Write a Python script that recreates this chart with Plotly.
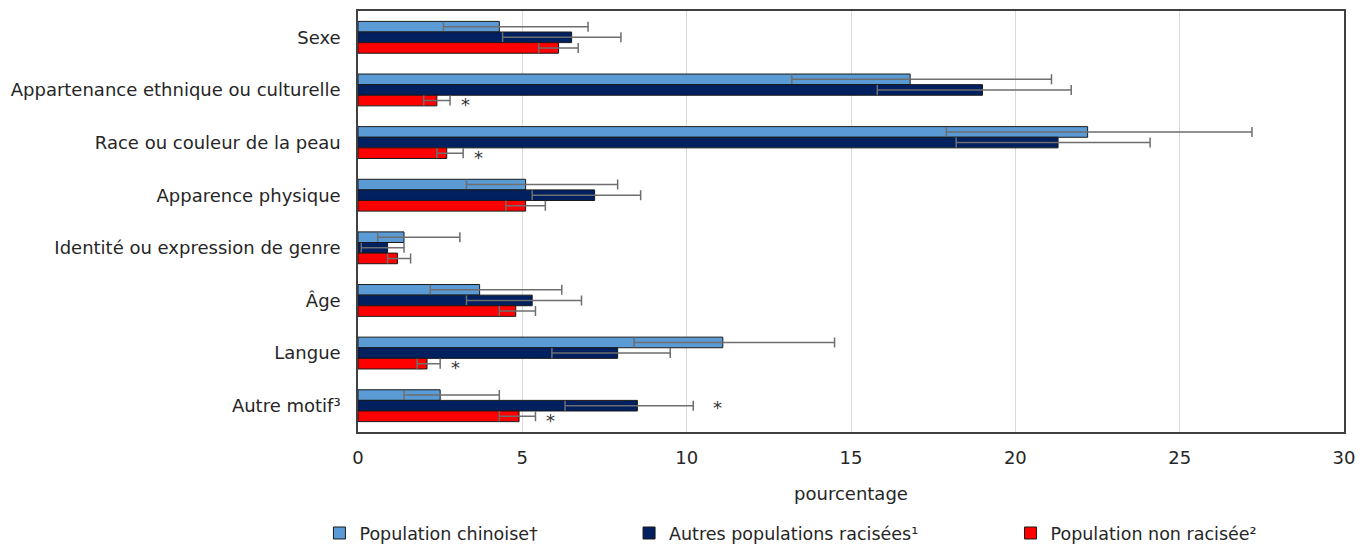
import plotly.graph_objects as go

# Motifs de discrimination (catégories de l'axe vertical)
categories = [
    "Sexe",
    "Appartenance ethnique ou culturelle",
    "Race ou couleur de la peau",
    "Apparence physique",
    "Identité ou expression de genre",
    "Âge",
    "Langue",
    "Autre motif³",
]

# Population chinoise (référence)
chinese = [4.3, 16.8, 22.2, 5.1, 1.4, 3.7, 11.1, 2.5]
chinese_low = [2.6, 13.2, 17.9, 3.3, 0.6, 2.2, 8.4, 1.4]
chinese_high = [7.0, 21.1, 27.2, 7.9, 3.1, 6.2, 14.5, 4.3]

# Autres populations racisées
other = [6.5, 19.0, 21.3, 7.2, 0.9, 5.3, 7.9, 8.5]
other_low = [4.4, 15.8, 18.2, 5.3, 0.1, 3.3, 5.9, 6.3]
other_high = [8.0, 21.7, 24.1, 8.6, 1.4, 6.8, 9.5, 10.2]
other_sig = [False, False, False, False, False, False, False, True]

# Population non racisée
nonrac = [6.1, 2.4, 2.7, 5.1, 1.2, 4.8, 2.1, 4.9]
nonrac_low = [5.5, 2.0, 2.4, 4.5, 0.9, 4.3, 1.8, 4.3]
nonrac_high = [6.7, 2.8, 3.2, 5.7, 1.6, 5.4, 2.5, 5.4]
nonrac_sig = [False, True, True, False, False, False, True, True]

x_ticks = [0, 5, 10, 15, 20, 25, 30]

FONT = "DejaVu Sans, Verdana, sans-serif"
TEXT = "#262626"


def bar_trace(name, vals, low, high, color, legend):
    return go.Bar(
        name=name,
        y=categories,
        x=vals,
        orientation="h",
        marker=dict(color=color, line=dict(color="#1a1a1a", width=1)),
        error_x=dict(
            type="data",
            symmetric=False,
            array=[h - v for h, v in zip(high, vals)],
            arrayminus=[v - l for v, l in zip(vals, low)],
            color="#6e6e6e",
            thickness=1.5,
            width=5,
        ),
        legend=legend,
    )


fig = go.Figure()
fig.add_trace(bar_trace("Population chinoise†", chinese, chinese_low, chinese_high, "#5b9bd5", "legend"))
fig.add_trace(bar_trace("Autres populations racisées¹", other, other_low, other_high, "#002060", "legend2"))
fig.add_trace(bar_trace("Population non racisée²", nonrac, nonrac_low, nonrac_high, "#ff0000", "legend3"))

# Astérisques : différence significative par rapport à la population chinoise
for sig, high, shift, dx in ((other_sig, other_high, -2, 24), (nonrac_sig, nonrac_high, -14.5, 15)):
    for cat, flag, h in zip(categories, sig, high):
        if flag:
            fig.add_annotation(
                x=h, y=cat, text="*", showarrow=False,
                xshift=dx, yshift=shift,
                font=dict(family=FONT, size=18, color="#333333"),
            )

legend_common = dict(
    orientation="h", yanchor="middle", xanchor="left",
    yref="container", y=0.02,
    font=dict(family=FONT, size=17.5, color=TEXT), bgcolor="rgba(0,0,0,0)",
    itemwidth=30,
)

fig.update_layout(
    width=1365,
    height=544,
    barmode="group",
    bargap=0.395,
    bargroupgap=0,
    plot_bgcolor="white",
    paper_bgcolor="white",
    margin=dict(l=358, r=21, t=9, b=112),
    font=dict(family=FONT, size=18, color=TEXT),
    showlegend=True,
    legend=dict(legend_common, x=-0.0391),
    legend2=dict(legend_common, x=0.2749),
    legend3=dict(legend_common, x=0.6618),
    xaxis=dict(
        range=[0, 30],
        tickvals=x_ticks,
        showgrid=True,
        gridcolor="#d9d9d9",
        gridwidth=1,
        zeroline=False,
        showline=True,
        linecolor="#404040",
        linewidth=1.5,
        mirror=True,
        ticks="",
        ticklabelstandoff=9,
        tickfont=dict(family=FONT, size=18, color=TEXT),
        title=dict(text="pourcentage", standoff=20, font=dict(family=FONT, size=18, color=TEXT)),
    ),
    yaxis=dict(
        autorange="reversed",
        showgrid=False,
        showline=True,
        linecolor="#404040",
        linewidth=1.5,
        mirror=True,
        ticks="",
        ticklabelstandoff=12,
        tickfont=dict(family=FONT, size=18, color=TEXT),
    ),
)

fig.write_html("out.html")
